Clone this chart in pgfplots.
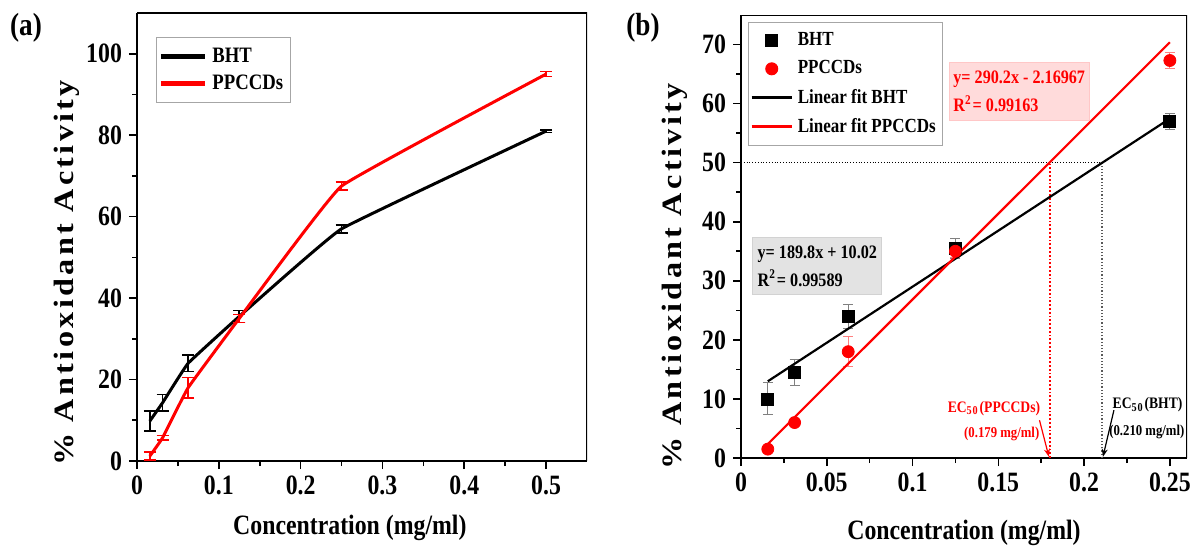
\documentclass[border=0pt]{standalone}
\usepackage{pgfplots}
\pgfplotsset{compat=1.18}
\usepackage{fontspec}
\setmainfont{Liberation Serif}[FakeStretch=0.85]
\newfontfamily\ylabfont{Liberation Serif}[FakeStretch=1.15, LetterSpace=12]
\usetikzlibrary{arrows.meta}

% data of panel (a)
\pgfplotstableread{
x y e
0.015625 9.8 2.5
0.03125 14.3 2.0
0.0625 24 2.0
0.125 35.5 1.5
0.25 57 1.0
0.5 81 0.3
}\bhta
\pgfplotstableread{
x y e
0.015625 1.2 1.0
0.03125 5.7 0.6
0.0625 18 2.5
0.125 35 1.0
0.25 67.5 1.0
0.5 95 0.6
}\ppca
% data of panel (b)
\pgfplotstableread{
x y e
0.015625 10 2.7
0.03125 14.5 2.2
0.0625 24 2.0
0.125 35.5 1.7
0.25 57 1.3
}\bhtb
\pgfplotstableread{
x y e
0.015625 1.5 0.5
0.03125 6 0.5
0.0625 18 2.5
0.125 35 1.0
0.25 67.3 1.3
}\ppcb

\pgfplotsset{
  common/.style={
    scale only axis,
    axis line style={line width=1pt},
    tick style={line width=0.8pt, black},
    tick align=outside,
    major tick length=4pt,
    minor tick length=2.5pt,
    axis x line*=bottom, axis y line*=left,
    /pgf/number format/assume math mode=true,
    ticklabel style={font=\fontsize{14}{16}\selectfont\bfseries},
    xlabel style={font=\fontsize{14}{16}\selectfont\bfseries},
    ylabel style={font=\fontsize{14}{16}\selectfont\ylabfont\bfseries},
    legend cell align=left,
    legend style={font=\fontsize{11}{13}\selectfont\bfseries, draw=gray!70, line width=0.5pt,
      inner xsep=1pt, nodes={inner xsep=2.5pt}},
  },
}

\begin{document}
\begin{tikzpicture}
\useasboundingbox (0,0) rectangle (596.5pt,273pt);

\node[font=\fontsize{16}{18}\selectfont\bfseries] at (13pt,259pt) {(a)};
\node[font=\fontsize{16}{18}\selectfont\bfseries] at (321.5pt,259pt) {(b)};

% ---------- (a) ----------
\begin{axis}[common,
  at={(68.5pt,42.5pt)}, anchor=south west,
  width=225pt, height=224pt,
  xmin=0, xmax=0.55, ymin=0, ymax=110,
  xtick={0,0.1,0.2,0.3,0.4,0.5},
  xticklabels={0,0.1,0.2,0.3,0.4,0.5},
  minor xtick={0.05,0.15,0.25,0.35,0.45},
  ytick={0,20,40,60,80,100},
  minor ytick={10,30,50,70,90},
  xlabel={Concentration (mg/ml)},
  ylabel={\% Antioxidant Activity},
  xlabel style={at={(axis description cs:0.473,-0.15)}, anchor=center},
  ylabel style={at={(axis description cs:-0.156,0.42)}, anchor=center},
  legend style={at={(axis description cs:0.042,0.946)}, anchor=north west,
    row sep=1pt, inner ysep=3pt},
  legend image post style={line width=2.5pt},
  legend image code/.code={\draw[#1] (0pt,0pt) -- (22pt,0pt);},
]
\draw[black, line width=1pt] (rel axis cs:0,1) -- (rel axis cs:1,1) -- (rel axis cs:1,0);
\addplot[black, line width=1.5pt, smooth, tension=0.15,
  error bars/.cd, y dir=both, y explicit,
  error bar style={line width=0.8pt, black},
  error mark options={rotate=90, mark size=3pt, line width=0.8pt, black}]
  table[x=x, y=y, y error=e] {\bhta};
\addlegendentry{BHT}
\addplot[red, line width=1.5pt, smooth, tension=0.15,
  error bars/.cd, y dir=both, y explicit,
  error bar style={line width=0.8pt, red},
  error mark options={rotate=90, mark size=3pt, line width=0.8pt, red}]
  table[x=x, y=y, y error=e] {\ppca};
\addlegendentry{PPCCDs}
\end{axis}

% ---------- (b) ----------
\begin{axis}[common,
  at={(370.5pt,44pt)}, anchor=south west,
  width=223pt, height=221.5pt,
  xmin=0, xmax=0.26, ymin=0, ymax=75,
  xtick={0,0.05,0.1,0.15,0.2,0.25},
  xticklabels={0,0.05,0.1,0.15,0.2,0.25},
  minor xtick={0.025,0.075,0.125,0.175,0.225},
  ytick={0,10,20,30,40,50,60,70},
  minor ytick={5,15,25,35,45,55,65},
  xlabel={Concentration (mg/ml)},
  ylabel={\% Antioxidant Activity},
  xlabel style={at={(axis description cs:0.5,-0.17)}, anchor=center},
  ylabel style={at={(axis description cs:-0.148,0.41)}, anchor=center},
  legend style={at={(axis description cs:0.016,0.984)}, anchor=north west,
    font=\fontsize{10}{12}\selectfont\bfseries, row sep=2pt, inner ysep=3pt},
  legend image code/.code={%
    \draw[#1, mark repeat=2, mark phase=2] plot coordinates {(0pt,0pt) (10pt,0pt) (20pt,0pt)};},
]
\draw[black, line width=1pt] (rel axis cs:0,1) -- (rel axis cs:1,1) -- (rel axis cs:1,0);

% reference lines at 50 %
\addplot[black, thin, densely dotted, forget plot] coordinates {(0,50) (0.2105,50)};
\addplot[red, line width=0.9pt, densely dotted, forget plot] coordinates {(0.18,0) (0.18,50)};
\addplot[gray!70!black, line width=0.6pt, densely dotted, forget plot] coordinates {(0.2105,0) (0.2105,50)};

\addplot[only marks, mark=square*, mark size=3pt, black,
  error bars/.cd, y dir=both, y explicit,
  error bar style={line width=0.5pt, gray},
  error mark options={rotate=90, mark size=2.5pt, line width=0.5pt, gray}]
  table[x=x, y=y, y error=e] {\bhtb};
\addlegendentry{BHT}
\addplot[only marks, mark=*, mark size=3pt, red,
  error bars/.cd, y dir=both, y explicit,
  error bar style={line width=0.5pt, red!50},
  error mark options={rotate=90, mark size=2.5pt, line width=0.5pt, red!50}]
  table[x=x, y=y, y error=e] {\ppcb};
\addlegendentry{PPCCDs}
\addplot[black, line width=1.1pt, no marks] coordinates {(0.015625,12.99) (0.25,57.47)};
\addlegendentry{Linear fit BHT}
\addplot[red, line width=1.1pt, no marks] coordinates {(0.015625,2.36) (0.25,70.38)};
\addlegendentry{Linear fit PPCCDs}

% EC50 arrows
\addplot[red, line width=0.6pt, -{Stealth[length=4pt]}, forget plot] coordinates {(0.174,6.4) (0.1795,0.2)};
\addplot[black, line width=0.6pt, -{Stealth[length=4pt]}, forget plot] coordinates {(0.2174,8.1) (0.211,0.2)};

\node[red, font=\fontsize{8}{9}\selectfont\bfseries, anchor=east] at (axis cs:0.1785,8.4) {EC$_{\mathbf{50}}$(PPCCDs)};
\node[red, font=\fontsize{7.5}{9}\selectfont\bfseries] at (axis cs:0.152,4.1) {(0.179 mg/ml)};
\node[black, font=\fontsize{8}{9}\selectfont\bfseries] at (axis cs:0.237,9.0) {EC$_{\mathbf{50}}$(BHT)};
\node[black, font=\fontsize{7.5}{9}\selectfont\bfseries] at (axis cs:0.2366,4.4) {(0.210 mg/ml)};

% fit equations
\node[fill=gray!22, draw=gray!35, minimum width=64.5pt, minimum height=28.5pt,
  align=left, font=\fontsize{9.5}{14}\selectfont\bfseries, inner xsep=2pt]
  at (axis cs:0.0445,32.5) {y= 189.8x + 10.02\\R$^{\mathbf{2}}$= 0.99589};
\node[fill=red!14, draw=red!22, minimum width=68pt, minimum height=29pt,
  align=left, text=red, font=\fontsize{9.5}{14}\selectfont\bfseries, inner xsep=2pt]
  at (axis cs:0.1622,62.0) {y= 290.2x - 2.16967\\R$^{\mathbf{2}}$= 0.99163};
\end{axis}
\end{tikzpicture}
\end{document}
